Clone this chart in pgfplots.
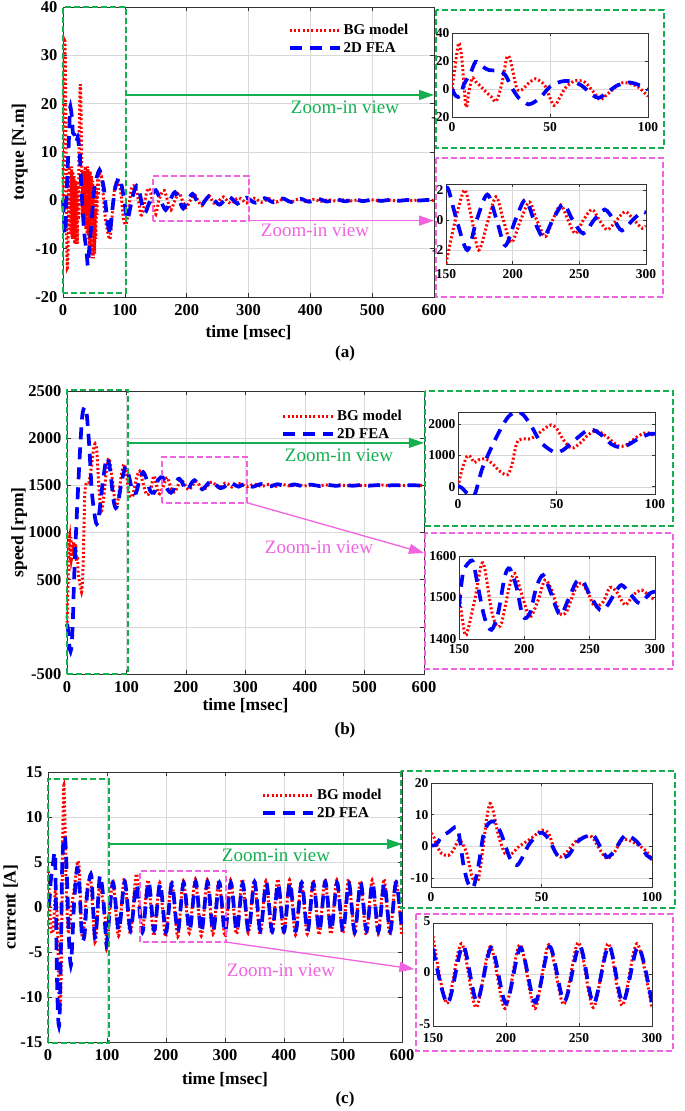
\documentclass[border=0pt]{standalone}
\usepackage{fontspec}
\setmainfont{Liberation Serif}
\usepackage{pgfplots}
\pgfplotsset{compat=1.18}
\usetikzlibrary{arrows.meta}
\definecolor{greenc}{RGB}{20,176,80}
\definecolor{pinkc}{RGB}{240,100,225}
\tikzset{
  bg/.style={red, mark=none, smooth, line width=3pt, dash pattern=on 2pt off 2.3pt},
  fea/.style={blue, mark=none, smooth, line width=3.7pt, dash pattern=on 12pt off 8pt},
  gbox/.style={greenc, line width=2.2pt, dash pattern=on 6pt off 3pt},
  pbox/.style={pinkc, line width=2.2pt, dash pattern=on 6pt off 3pt},
}
\pgfplotsset{
  common/.style={scale only axis, axis background/.style={fill=white},
    axis line style={black!80, line width=0.6pt},
    grid=major, major grid style={black!15, line width=0.5pt},
    tick align=inside, tick style={black!80, line width=0.6pt},
    /pgf/number format/assume math mode=true, /pgf/number format/1000 sep={}},
  mainax/.style={common, clip=false, major tick length=4pt,
    xmin=0, xmax=600, xtick={0,100,...,600},
    ticklabel style={font=\bfseries\fontsize{16.5}{16.5}\selectfont},
    xticklabel style={yshift=-4pt}, yticklabel style={xshift=-2pt},
    label style={font=\bfseries\fontsize{17.5}{18}\selectfont},
    xlabel={time [msec]},
    legend style={draw=none, fill=none, font=\bfseries\fontsize{15}{15}\selectfont,
      cells={anchor=west}, row sep=2pt, inner sep=0pt, anchor=north west},
    legend image code/.code={\draw[##1] (0pt,0pt) -- (50pt,0pt);}},
  inax/.style={common, clip=true, major tick length=3pt,
    ticklabel style={font=\bfseries\fontsize{13.5}{13.5}\selectfont},
    xticklabel style={yshift=-2pt}, yticklabel style={xshift=1pt}},
}
\newcommand\zfont{\fontsize{19}{19}\selectfont}
\begin{document}
\begin{tikzpicture}
\useasboundingbox (0pt,0pt) rectangle (685pt,-1111pt);
% ================= (a) =================
\begin{axis}[mainax, at={(63pt,-297pt)}, anchor=south west, width=371pt, height=290pt,
  ymin=-20, ymax=40, ytick={-20,-10,...,40}, ylabel={torque [N.m]},
  xlabel style={at={(axis description cs:0.5,-0.124)}, anchor=center},
  ylabel style={at={(axis description cs:-0.117,0.5)}, anchor=center},
  legend style={at={(axis description cs:0.606,0.948)}}]
\addplot[bg] coordinates {(0,0)(1,18)(2,30)(3,33)(4,26)(5,8)(6,-8)(7,-14)(8,-11)(9,-2)(10,7)(11,-6)(12,6)(13,-7)(14,7)(15,-8)(16,6)(17,-8)(18,5)(19,-9)(20,4)(21,-9)(22,3)(23,-9)(24,4)(25,-4)(26,12)(27,20)(28,24)(29,20)(30,8)(31,-3)(32,6)(33,-4)(34,6)(35,-5)(36,7)(37,-6)(38,6)(39,-7)(40,7)(41,-8)(42,6)(43,-10)(44,6)(45,-11)(46,5)(47,-12)(48,4)(49,-12)(50,2)(51,-11)(52,-2)(53,-8)(54,2)(55,-3)(56,5)(57,1)(58,6)(60,5)(62,5)(64,3)(67,-2)(70,-5)(73,-7)(76,-8)(79,-4)(83,2)(87,4)(90,4)(94,1)(98,-4)(102,-5)(106,-2)(110,2)(114,3)(118,2.5)(122,0)(126,-3)(130,-2)(134,1)(138,2.5)(142,1.5)(146,-1)(150,-2.9)(155,0)(160,1.6)(164,2.0)(169,0)(174.5,-2.0)(181,0)(187.5,1.55)(193,0)(199,-1.5)(206,0)(212.5,1.2)(218,0)(224.5,-1.1)(230,0)(236,1.0)(241,0)(247,-0.9)(253,0)(259.5,0.7)(265,0)(271,-0.65)(278,0)(284.5,0.55)(291,0)(297,-0.55)(309,0.45)(321,-0.4)(333,0.35)(345,-0.35)(357,0.3)(369,-0.3)(381,0.25)(393,-0.25)(405,0.2)(417,-0.2)(429,0.15)(441,-0.15)(453,0.12)(465,-0.12)(477,0.1)(489,-0.1)(501,0.08)(513,-0.08)(525,0.06)(537,-0.06)(549,0.05)(561,-0.05)(573,0.04)(585,-0.04)(600,0)};
\addplot[fea] coordinates {(0,0)(2,-5)(3,-7)(4.3,-5)(6,2)(8,8)(9.4,12)(11,18)(12,19.4)(14.5,17)(16,14)(18.7,13.6)(21,12)(23.8,13)(25,12)(27.2,10)(28,7)(30.6,0.7)(34,-6.3)(37,-9.5)(39,-12)(40,-13.5)(41,-12.5)(43,-9)(45,-6.3)(50.2,1.9)(53,4)(56,5.4)(59,6.3)(61.2,5.4)(66.3,2.3)(71.4,-4)(74.8,-6.3)(76,-7)(79,-2.8)(84,2.3)(88,4)(90,4.7)(95,3)(100,-1)(104,-4)(108,-2)(113,1)(119,3)(124,1.5)(128,-1)(133,-2.5)(138,-1)(144,1)(150,2.1)(158,0)(166,-2.0)(173,0)(181,1.7)(188,0)(194.5,-1.7)(202,0)(209.5,1.35)(216,0)(223,-1.15)(230,0)(238,1.05)(245,0)(253,-0.9)(261,0)(269,0.7)(276,0)(282,-0.7)(290,0)(297,0.55)(311,-0.5)(326,0.45)(340,-0.4)(355,0.38)(369,-0.35)(384,0.32)(398,-0.3)(413,0.28)(427,-0.25)(442,0.22)(456,-0.2)(471,0.18)(485,-0.16)(500,0.14)(514,-0.12)(529,0.1)(543,-0.09)(558,0.08)(572,-0.07)(587,0.06)(600,0)};
\legend{BG model, 2D FEA}
\draw[gbox] (axis cs:0,-19.2) rectangle (axis cs:102,40);
\draw[pbox] (axis cs:145,-4.2) rectangle (axis cs:301,5);
\draw[greenc, line width=1.3pt, -{Triangle[length=15pt,width=10pt]}] (axis cs:102,21.8) -- (axis cs:600,21.8);
\draw[pinkc, line width=1.3pt, -{Triangle[length=15pt,width=10pt]}] (axis cs:301,-4.2) -- (axis cs:600,-4.2);
\end{axis}
\node[greenc, font=\zfont] at (345pt,-107pt) {Zoom-in view};
\node[pinkc, font=\zfont] at (315pt,-230pt) {Zoom-in view};
\node[font=\bfseries\fontsize{17}{17}\selectfont] at (345pt,-353pt) {(a)};
\begin{axis}[inax, at={(452pt,-117pt)}, anchor=south west, width=196pt, height=84pt,
  xmin=0, xmax=100, xtick={0,50,100}, ymin=-20, ymax=40, ytick={-20,0,20,40}]
\addplot[bg] coordinates {(0,0)(1.5,15)(3.4,32.8)(5,22)(7.1,-12.6)(8.5,-3)(10.2,7.7)(12,5.4)(14.5,2)(17,-1.6)(20,-5.5)(22.6,-8.7)(25.5,4.2)(28,22.5)(29.8,20.6)(33,0.7)(35.7,-0.5)(39,4)(42.5,7.3)(45.5,5)(47.6,1.9)(51.9,-11.7)(55,-6)(57.8,0.7)(62,5.5)(65,6)(68,4.7)(73,-3.5)(75.7,-7.5)(80,-2.8)(86,4.2)(90,4.2)(95,1.4)(100,-5.2)};
\addplot[fea] coordinates {(0,0)(2,-5)(4.3,-5)(6,3)(9.4,11.2)(12,19.4)(14.5,17)(18.7,13.6)(23.8,13)(27.2,10)(30.6,0.7)(34,-6.3)(37,-9.5)(39,-11)(40.8,-10.3)(45,-6.3)(50.2,1.9)(56,5.4)(61.2,5.4)(66.3,2.3)(71.4,-4)(74.8,-6.3)(79,-2.8)(84,2.3)(90,4.7)(95,3)(100,-0.5)};
\end{axis}
\begin{axis}[inax, at={(446pt,-264pt)}, anchor=south west, width=200pt, height=80pt,
  xmin=150, xmax=300, xtick={150,200,250,300}, ymin=-2.93, ymax=2.4, ytick={-2,0,2}]
\addplot[bg] coordinates {(150,-2.9)(157,0)(164,2.0)(169,0.2)(174.5,-2.0)(181,-0.2)(187.5,1.55)(193,0)(199,-1.5)(206,0)(212.5,1.2)(218,0)(224.5,-1.1)(230,0)(236,1.0)(241.5,0)(247,-0.9)(253,0)(259.5,0.7)(265,0)(271,-0.65)(278,0)(284.5,0.55)(291,0)(297,-0.55)(300,-0.4)};
\addplot[fea] coordinates {(150,2.1)(152,2.0)(158,0)(166,-2.0)(173,0)(181,1.7)(188,0)(194.5,-1.7)(202,0)(209.5,1.35)(216,0)(223,-1.15)(230,0)(238,1.05)(245,0)(253,-0.9)(261,0)(269,0.7)(276,0)(282,-0.7)(290,0)(297,0.55)(300,0.45)};
\end{axis}
\draw[gbox] (436pt,-10pt) rectangle (664pt,-148pt);
\draw[pbox] (436pt,-158pt) rectangle (663pt,-297pt);
% ================= (b) =================
\begin{axis}[mainax, at={(67pt,-674pt)}, anchor=south west, width=357pt, height=283pt,
  ymin=-500, ymax=2500, ytick={-500,0,500,1000,1500,2000,2500},
  yticklabels={-500,,500,1000,1500,2000,2500}, ylabel={speed [rpm]},
  xlabel style={at={(axis description cs:0.5,-0.112)}, anchor=center},
  ylabel style={at={(axis description cs:-0.134,0.5)}, anchor=center},
  legend style={at={(axis description cs:0.6,0.94)}}]
\addplot[bg] coordinates {(0,0)(1,300)(2,540)(3,800)(4.5,960)(5.5,700)(6.5,950)(7.5,720)(8.5,880)(10,760)(11.5,900)(13,800)(14.5,880)(16,700)(17.5,750)(19,560)(21,480)(23,420)(25,380)(27.3,700)(29.8,1386)(32.4,1524)(36.6,1524)(40,1651)(44.2,1862)(47.2,1940)(50,1862)(53.5,1492)(57.7,1228)(61.9,1386)(66.1,1651)(70.3,1788)(75.4,1598)(81.3,1302)(85.5,1333)(90.6,1577)(95.6,1725)(100,1619)(104,1420)(110,1380)(116,1560)(122,1650)(128,1520)(134,1400)(140,1440)(146,1600)(150,1510)(153,1438)(155.6,1410)(162,1494)(167,1578)(169.7,1570)(174.8,1470)(178.6,1434)(182.5,1438)(188.8,1530)(192.7,1558)(197.8,1510)(204.2,1454)(210.6,1494)(215.7,1542)(220.8,1518)(227.2,1462)(232.3,1466)(238.7,1518)(243.8,1535)(248.9,1510)(254,1478)(260.4,1490)(265.5,1524)(270.6,1514)(277,1482)(283.4,1506)(289.8,1518)(296.2,1502)(303,1485)(315,1512)(327,1488)(339,1511)(351,1490)(363,1509)(375,1492)(387,1507)(399,1493)(411,1506)(423,1494)(435,1505)(447,1495)(459,1504)(471,1496)(483,1503)(495,1497)(507,1503)(519,1497)(531,1502)(543,1498)(555,1502)(567,1498)(579,1501)(591,1499)(600,1500)};
\addplot[fea] coordinates {(0,30)(2,-40)(4,-200)(6,-260)(8,-180)(10,100)(12.1,540)(16.4,1175)(21.4,1810)(25.6,2233)(29.8,2330)(33.2,2250)(37.4,1915)(41.7,1439)(46.7,1175)(50,1090)(53.5,1175)(59.4,1492)(65.3,1760)(68.6,1780)(72.8,1651)(77.9,1354)(82,1259)(86.3,1333)(91.4,1524)(97.3,1683)(100,1683)(104,1600)(110,1440)(116,1420)(122,1560)(128,1640)(134,1560)(140,1440)(146,1420)(150,1478)(153,1558)(156.9,1582)(160.7,1586)(164.6,1525)(169.7,1450)(174.8,1422)(179.9,1462)(185,1550)(188.8,1570)(193.9,1526)(199,1454)(204.2,1462)(209.3,1526)(214.4,1554)(219.5,1518)(227.2,1458)(233.5,1494)(239.9,1538)(245,1538)(250.1,1506)(257.8,1470)(262.9,1478)(269.2,1510)(274.3,1530)(280.7,1510)(288.3,1486)(296,1510)(300,1514)(312,1485)(326,1514)(340,1487)(354,1512)(368,1489)(382,1510)(396,1491)(410,1508)(424,1493)(438,1506)(452,1494)(466,1505)(480,1495)(494,1504)(508,1496)(522,1503)(536,1497)(550,1502)(564,1498)(578,1501)(592,1499)(600,1500)};
\legend{BG model, 2D FEA}
\draw[gbox] (axis cs:0,-500) rectangle (axis cs:103,2510);
\draw[pbox] (axis cs:160,1315) rectangle (axis cs:303,1800);
\draw[greenc, line width=1.3pt, -{Triangle[length=15pt,width=10pt]}] (axis cs:103,1950) -- (axis cs:600,1950);
\draw[pinkc, line width=1.3pt, -{Triangle[length=15pt,width=10pt]}] (axis cs:303,1315) -- (axis cs:600,783);
\end{axis}
\node[greenc, font=\zfont] at (339pt,-455pt) {Zoom-in view};
\node[pinkc, font=\zfont] at (319pt,-547pt) {Zoom-in view};
\node[font=\bfseries\fontsize{17}{17}\selectfont] at (345pt,-730pt) {(b)};
\begin{axis}[inax, at={(458pt,-494pt)}, anchor=south west, width=197pt, height=82pt,
  xmin=0, xmax=100, xtick={0,50,100}, ymin=-230, ymax=2380, ytick={0,1000,2000}]
\addplot[bg] coordinates {(0,0)(2,540)(4.5,963)(6.2,963)(8.3,772)(10.5,857)(13.8,889)(17.2,751)(21.4,487)(25.1,381)(27.3,698)(29.8,1386)(32.4,1524)(36.6,1524)(40,1651)(44.2,1862)(47.2,1968)(50,1862)(53.5,1492)(57.7,1228)(61.9,1386)(66.1,1651)(70.3,1788)(75.4,1598)(81.3,1302)(85.5,1333)(90.6,1577)(95.6,1725)(100,1619)};
\addplot[fea] coordinates {(0,30)(2,-40)(4.5,-200)(7,-320)(8.8,-200)(12.1,540)(16.4,1175)(21.4,1810)(25.6,2233)(29.8,2392)(33.2,2286)(37.4,1915)(41.7,1439)(46.7,1175)(50,1090)(53.5,1175)(59.4,1492)(65.3,1788)(68.6,1810)(72.8,1651)(77.9,1354)(82,1259)(86.3,1333)(91.4,1524)(97.3,1683)(100,1683)};
\end{axis}
\begin{axis}[inax, at={(459pt,-639pt)}, anchor=south west, width=196pt, height=83pt,
  xmin=150, xmax=300, xtick={150,200,250,300}, ymin=1400, ymax=1600, ytick={1400,1500,1600}]
\addplot[bg] coordinates {(150,1510)(153,1438)(155.6,1410)(162,1494)(167,1578)(169.7,1570)(174.8,1470)(178.6,1434)(182.5,1438)(188.8,1530)(192.7,1558)(197.8,1510)(204.2,1454)(210.6,1494)(215.7,1542)(220.8,1518)(227.2,1462)(232.3,1466)(238.7,1518)(243.8,1535)(248.9,1510)(254,1478)(260.4,1490)(265.5,1524)(270.6,1514)(277,1482)(283.4,1506)(289.8,1518)(296.2,1502)(300,1494)};
\addplot[fea] coordinates {(150,1478)(153,1558)(156.9,1582)(160.7,1586)(164.6,1525)(169.7,1450)(174.8,1422)(179.9,1462)(185,1550)(188.8,1570)(193.9,1526)(199,1454)(204.2,1462)(209.3,1526)(214.4,1554)(219.5,1518)(227.2,1458)(233.5,1494)(239.9,1538)(245,1538)(250.1,1506)(257.8,1470)(262.9,1478)(269.2,1510)(274.3,1530)(280.7,1510)(288.3,1486)(296,1510)(300,1514)};
\end{axis}
\draw[gbox] (425pt,-391pt) rectangle (673pt,-526pt);
\draw[pbox] (425pt,-533pt) rectangle (673pt,-669pt);
% ================= (c) =================
\begin{axis}[mainax, at={(48pt,-1042pt)}, anchor=south west, width=354pt, height=270pt,
  ymin=-15, ymax=15, ytick={-15,-10,...,15}, ylabel={current [A]},
  xlabel style={at={(axis description cs:0.5,-0.141)}, anchor=center},
  ylabel style={at={(axis description cs:-0.105,0.5)}, anchor=center},
  legend style={at={(axis description cs:0.602,0.944)}}]
\addplot[bg] coordinates {(0,4)(1,3.5)(2.6,0.3)(4.8,-2.3)(7.9,-2.9)(10.1,-1.3)(12.4,1.9)(13.9,1.2)(16.2,-2.3)(18.4,-9.2)(19.9,-11.3)(21.5,-10.3)(23.3,-1.8)(25.2,8.8)(26.7,13.5)(28.2,10.9)(30.5,3.5)(33.5,-2.3)(36.6,-2.3)(39.6,-0.2)(44.1,1.9)(47.1,3.5)(50.2,5.1)(53.2,4)(56.2,-1.8)(58.5,-3.4)(61.5,-1.8)(66,1.9)(69.8,3)(72.8,3)(76.6,-1.3)(79.6,-3.9)(82.6,-2.3)(86.4,1.9)(89.4,1.9)(94,0.3)(97.7,-1.8)(100,-4.4)(109.5,3.0)(119.5,-3.2)(129.5,3.2)(139.5,-3.0)(150,3.7)(159.5,-2.8)(169.5,3.0)(179.5,-3.2)(189.3,2.7)(199.3,-3.3)(209.5,2.9)(219.8,-3.3)(229.3,2.9)(239.5,-2.9)(249.6,3.1)(259.8,-3.2)(270,3.0)(279.5,-3.0)(289.7,3.0)(300,-3.3)(309.5,3.0)(319.5,-3.0)(329.5,3.1)(339.5,-2.9)(349.5,3.0)(359.5,-3.1)(369.5,2.9)(379.5,-3.0)(389.5,3.1)(399.5,-3.0)(409.5,3.0)(419.5,-3.1)(429.5,2.9)(439.5,-3.0)(449.5,3.0)(459.5,-3.1)(469.5,3.1)(479.5,-3.0)(489.5,3.0)(499.5,-2.9)(509.5,3.1)(519.5,-3.0)(529.5,2.9)(539.5,-3.1)(549.5,3.0)(559.5,-3.0)(569.5,3.1)(579.5,-3.1)(589.5,3.0)(599.5,-3.0)};
\addplot[fea] coordinates {(0,0.3)(1.8,0.3)(3.3,1.4)(4.8,3)(8,4.5)(11.6,6.1)(13.1,1.9)(14.7,-6)(16.9,-11.9)(19.2,-12.9)(21.5,-6)(23.7,3.5)(26,7.2)(29,7.7)(32,3.5)(35.8,-3.9)(38.8,-6.5)(41.1,-3.9)(44.1,0.3)(47.9,3.5)(50.2,4.3)(53.2,2.4)(56.2,-1.8)(58.5,-3.7)(62.2,-2.9)(66,1.2)(69.8,3)(73.5,3.5)(76.6,-0.2)(79.6,-3.4)(82.6,-1.8)(86.4,2.4)(88.7,3.5)(93.2,1.4)(97.7,-2.9)(100,-3.9)(110,2.7)(120,-2.6)(130,2.8)(140,-2.6)(150,2.5)(160,-2.8)(170.5,2.8)(180,-2.6)(190,2.6)(200,-2.8)(210,2.6)(220,-2.7)(230,2.7)(240,-2.6)(250.5,2.8)(260,-2.8)(270.5,2.8)(280,-2.7)(290.5,2.7)(300,-2.8)(310,2.7)(320,-2.7)(330,2.6)(340,-2.7)(350,2.8)(360,-2.6)(370,2.7)(380,-2.7)(390,2.6)(400,-2.7)(410,2.7)(420,-2.6)(430,2.7)(440,-2.7)(450,2.6)(460,-2.7)(470,2.8)(480,-2.6)(490,2.7)(500,-2.7)(510,2.6)(520,-2.8)(530,2.7)(540,-2.6)(550,2.7)(560,-2.7)(570,2.6)(580,-2.7)(590,2.7)(600,-2.6)};
\legend{BG model, 2D FEA}
\draw[gbox] (axis cs:0,-15.1) rectangle (axis cs:103,14.2);
\draw[pbox] (axis cs:156,-3.9) rectangle (axis cs:302,4);
\draw[greenc, line width=1.3pt, -{Triangle[length=15pt,width=10pt]}] (axis cs:103,7) -- (axis cs:600,7);
\draw[pinkc, line width=1.3pt, -{Triangle[length=15pt,width=10pt]}] (axis cs:302,-3.9) -- (axis cs:621,-6.9);
\end{axis}
\node[greenc, font=\zfont] at (276pt,-855pt) {Zoom-in view};
\node[pinkc, font=\zfont] at (281pt,-970pt) {Zoom-in view};
\node[font=\bfseries\fontsize{17}{17}\selectfont] at (345pt,-1099pt) {(c)};
\begin{axis}[inax, at={(431pt,-887pt)}, anchor=south west, width=221pt, height=104pt,
  xmin=0, xmax=100, xtick={0,50,100}, ymin=-12.9, ymax=20, ytick={-10,0,10,20}]
\addplot[bg] coordinates {(0,4)(1,3.5)(2.6,0.3)(4.8,-2.3)(7.9,-2.9)(10.1,-1.3)(12.4,1.9)(13.9,1.2)(16.2,-2.3)(18.4,-9.2)(19.9,-11.3)(21.5,-10.3)(23.3,-1.8)(25.2,8.8)(26.7,13.5)(28.2,10.9)(30.5,3.5)(33.5,-2.3)(36.6,-2.3)(39.6,-0.2)(44.1,1.9)(47.1,3.5)(50.2,5.1)(53.2,4)(56.2,-1.8)(58.5,-3.4)(61.5,-1.8)(66,1.9)(69.8,3)(72.8,3)(76.6,-1.3)(79.6,-3.9)(82.6,-2.3)(86.4,1.9)(89.4,1.9)(94,0.3)(97.7,-1.8)(100,-4.4)};
\addplot[fea] coordinates {(0,0.3)(1.8,0.3)(3.3,1.4)(4.8,3)(8,4.5)(11.6,6.1)(13.1,1.9)(14.7,-6)(16.9,-11.9)(19.2,-12.9)(21.5,-6)(23.7,3.5)(26,7.2)(29,7.7)(32,3.5)(35.8,-3.9)(38.8,-6)(41.1,-3.9)(44.1,0.3)(47.9,3.5)(50.2,4.3)(53.2,2.4)(56.2,-1.8)(58.5,-3.7)(62.2,-2.9)(66,1.2)(69.8,3)(73.5,3.5)(76.6,-0.2)(79.6,-3.4)(82.6,-1.8)(86.4,2.4)(88.7,3.5)(93.2,1.4)(97.7,-2.9)(100,-3.9)};
\end{axis}
\begin{axis}[inax, at={(433pt,-1026pt)}, anchor=south west, width=219pt, height=103pt,
  xmin=150, xmax=300, xtick={150,200,250,300}, ymin=-5, ymax=5, ytick={-5,0,5},
  xticklabel style={yshift=-2pt}, yticklabel style={yshift=2pt}]
\addplot[bg] coordinates {(150,3.7)(159.5,-2.8)(169.5,3.0)(179.5,-3.2)(189.3,2.7)(199.3,-3.3)(209.5,2.9)(219.8,-3.3)(229.3,2.9)(239.5,-2.9)(249.6,3.1)(259.8,-3.2)(270,3.0)(279.5,-3.0)(289.7,3.0)(300,-3.3)};
\addplot[fea] coordinates {(150,2.5)(160,-2.8)(170.5,2.8)(180,-2.6)(190,2.6)(200,-2.8)(210,2.6)(220,-2.7)(230,2.7)(240,-2.6)(250.5,2.8)(260,-2.8)(270.5,2.8)(280,-2.7)(290.5,2.7)(300,-2.8)};
\end{axis}
\draw[gbox] (401pt,-771pt) rectangle (675pt,-908pt);
\draw[pbox] (416pt,-914pt) rectangle (673pt,-1051pt);
\end{tikzpicture}
\end{document}
